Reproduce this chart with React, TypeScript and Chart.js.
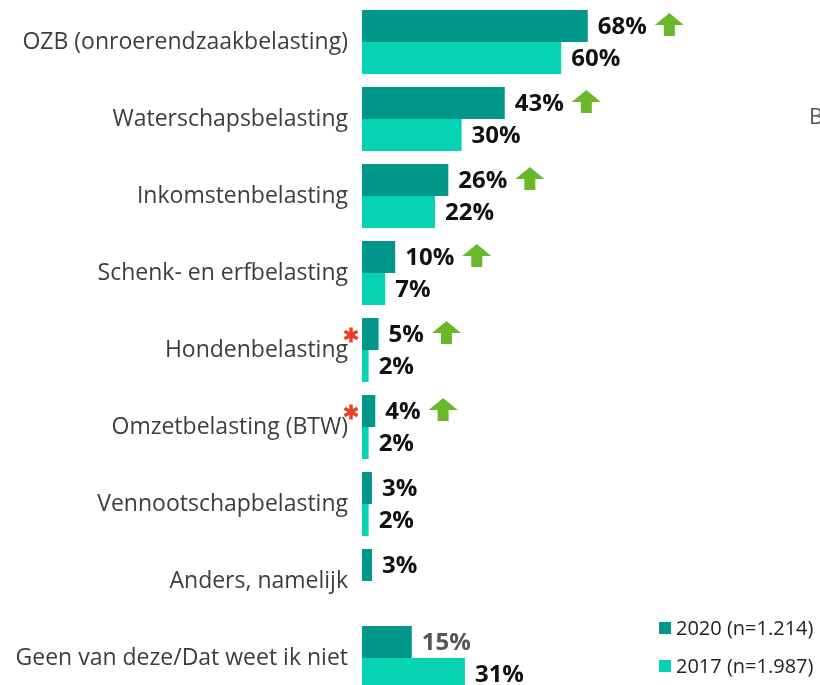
import React, { useEffect, useRef } from "react";
import { Chart, registerables } from "chart.js";

Chart.register(...registerables);

const categories = [
  "OZB (onroerendzaakbelasting)",
  "Waterschapsbelasting",
  "Inkomstenbelasting",
  "Schenk- en erfbelasting",
  "Hondenbelasting",
  "Omzetbelasting (BTW)",
  "Vennootschapbelasting",
  "Anders, namelijk",
  "Geen van deze/Dat weet ik niet",
];
const values2020 = [68, 43, 26, 10, 5, 4, 3, 3, 15];
const values2017: (number | null)[] = [60, 30, 22, 7, 2, 2, 2, null, 31];
const risingArrows = [true, true, true, true, true, true, false, false, false];
const significantMarks = [false, false, false, false, true, true, false, false, false];
const legendLabels = ["2020 (n=1.214)", "2017 (n=1.987)"];

const COLOR_2020 = "#00968a";
const COLOR_2017 = "#05d3b3";
const FONT = "'Open Sans', 'Noto Sans', sans-serif";

const overlayPlugin = {
  id: "overlay",
  afterDatasetsDraw(chart: any) {
    const ctx = chart.ctx;
    ctx.save();
    ctx.textBaseline = "middle";
    ctx.textAlign = "left";
    [0, 1].forEach((di) => {
      const meta = chart.getDatasetMeta(di);
      const data = chart.data.datasets[di].data;
      meta.data.forEach((el: any, i: number) => {
        const v = data[i];
        if (v === null || v === undefined) return;
        const isGreyLabel = di === 0 && i === 8;
        ctx.font = `bold 24px ${FONT}`;
        ctx.fillStyle = isGreyLabel ? "#555555" : "#111111";
        const txt = `${v}%`;
        const tx = el.x + 10;
        ctx.fillText(txt, tx, el.y + 1.5);
        if (di === 0 && risingArrows[i]) {
          const w = ctx.measureText(txt).width;
          const ax = tx + w + 8;
          const top = el.y - 13;
          ctx.fillStyle = "#69b82c";
          ctx.beginPath();
          ctx.moveTo(ax + 14.5, top);
          ctx.lineTo(ax + 29, top + 12);
          ctx.lineTo(ax + 20, top + 12);
          ctx.lineTo(ax + 20, top + 23);
          ctx.lineTo(ax + 9, top + 23);
          ctx.lineTo(ax + 9, top + 12);
          ctx.lineTo(ax, top + 12);
          ctx.closePath();
          ctx.fill();
        }
      });
    });
    // significance asterisks
    const yScale = chart.scales.y;
    ctx.strokeStyle = "#e8402a";
    ctx.lineWidth = 3.5;
    significantMarks.forEach((m, i) => {
      if (!m) return;
      const cx = 351;
      const cy = yScale.getPixelForValue(i) - 15;
      const r = 7.5;
      ctx.beginPath();
      for (let k = 0; k < 3; k++) {
        const a = (Math.PI / 3) * k + Math.PI / 2;
        ctx.moveTo(cx + r * Math.cos(a), cy + r * Math.sin(a));
        ctx.lineTo(cx - r * Math.cos(a), cy - r * Math.sin(a));
      }
      ctx.stroke();
    });
    // legend
    const colors = [COLOR_2020, COLOR_2017];
    const ly = [628, 666];
    ctx.font = `20px ${FONT}`;
    legendLabels.forEach((l, i) => {
      ctx.fillStyle = colors[i];
      ctx.fillRect(659, ly[i] - 6, 12, 12);
      ctx.fillStyle = "#222222";
      ctx.fillText(l, 676, ly[i] + 1);
    });
    // stray cut-off text at right edge
    ctx.fillStyle = "#555555";
    ctx.font = `22px ${FONT}`;
    ctx.fillText("B", 809, 118);
    ctx.restore();
  },
};

export default function App() {
  const ref = useRef<HTMLCanvasElement | null>(null);
  useEffect(() => {
    if (!ref.current) return;
    const chart = new Chart(ref.current, {
      type: "bar",
      data: {
        labels: categories,
        datasets: [
          { label: legendLabels[0], data: values2020, backgroundColor: COLOR_2020, categoryPercentage: 0.831, barPercentage: 1 },
          { label: legendLabels[1], data: values2017, backgroundColor: COLOR_2017, categoryPercentage: 0.831, barPercentage: 1 },
        ],
      },
      options: {
        indexAxis: "y",
        animation: false,
        responsive: false,
        maintainAspectRatio: false,
        layout: { padding: { top: 3.5, bottom: 3.5, right: 126, left: 0 } },
        plugins: { legend: { display: false }, tooltip: { enabled: false } },
        scales: {
          x: { display: false, min: 0, max: 100 },
          y: {
            grid: { display: false, drawTicks: false, tickLength: 0 },
            border: { display: false },
            ticks: { padding: 14, color: "#3d3d3d", font: { size: 23, family: FONT } },
            afterFit: (scale: any) => {
              scale.width = 362;
              scale.paddingTop = 0;
              scale.paddingBottom = 0;
            },
          },
        },
      },
      plugins: [overlayPlugin],
    });
    return () => chart.destroy();
  }, []);
  return (
    <div style={{ position: "absolute", left: 0, top: 0, width: 820, height: 700, background: "#fff" }}>
      <canvas ref={ref} width={820} height={700} style={{ width: 820, height: 700, display: "block" }} />
    </div>
  );
}
